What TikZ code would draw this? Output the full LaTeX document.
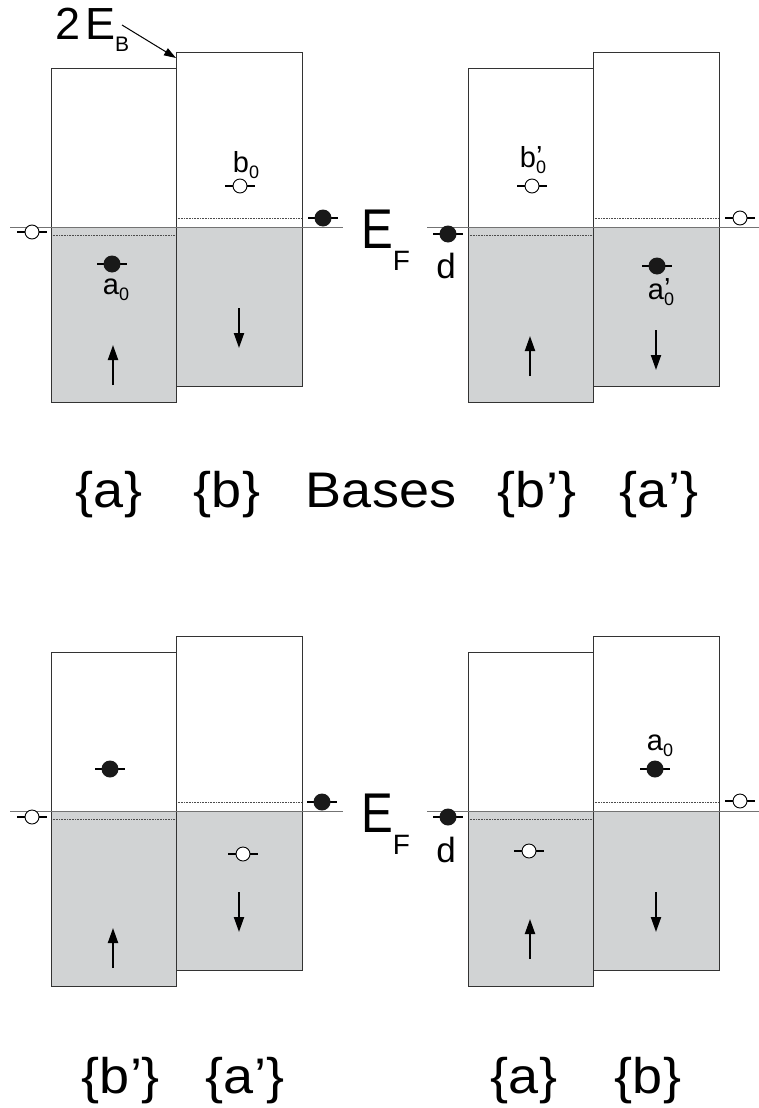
\documentclass[tikz,border=0pt]{standalone}
\usepackage{fontspec}
\setmainfont{Liberation Sans}
\usetikzlibrary{arrows.meta}
\definecolor{bandgray}{RGB}{209,211,212}
\newcommand{\lsub}[1]{\raisebox{-0.4ex}{\fontsize{18}{18}\selectfont #1}}
\newcommand{\lpsub}[1]{\rlap{\raisebox{1pt}{’}}\lsub{#1}}
\newcommand{\wide}[1]{\scalebox{1.08}[1]{#1}}

\begin{document}
\begin{tikzpicture}[x=1pt,y=-1pt]
  \tikzstyle{band}=[draw=black!80,line width=0.8pt]
  \tikzstyle{filled}=[fill=bandgray]
  \tikzstyle{level}=[draw=black!70,densely dotted,line width=0.6pt]
  \tikzstyle{fermi}=[draw=black!55,line width=0.9pt]
  \tikzstyle{bar}=[draw,line width=2pt]
  \tikzstyle{hole}=[circle,draw,line width=0.9pt,fill=white,minimum size=14pt,inner sep=0pt]
  \tikzstyle{elec}=[circle,fill=black!90,minimum size=17pt,inner sep=0pt]
  \tikzstyle{spin}=[-{Triangle[length=15pt,width=10pt]},line width=2pt]
  \tikzstyle{pointer}=[-{Triangle[length=12pt,width=8pt]},line width=1pt]
  \tikzstyle{lbl}=[font=\fontsize{29}{29}\selectfont,inner sep=0pt]
  \tikzstyle{dlbl}=[font=\fontsize{35}{35}\selectfont,inner sep=0pt]
  \tikzstyle{basis}=[font=\fontsize{50}{50}\selectfont,inner sep=0pt,anchor=base]
  \tikzstyle{ef}=[font=\fontsize{56}{56}\selectfont,inner sep=0pt,anchor=base west]

  \useasboundingbox (0,0) rectangle (759,1108);

  % bands, Fermi level and spin arrows of the four pictures
  \foreach \dx/\dy/\up/\dn in {0/0/385/308,417/0/376/330,0/584/384/308,417/584/375/308} {
    \begin{scope}[shift={(\dx,\dy)}]
      \fill[filled] (51,227) rectangle (176,402);
      \fill[filled] (176,227) rectangle (302,386);
      \draw[level] (51,235) -- (176,235);
      \draw[level] (176,218) -- (302,218);
      \draw[band] (51,68) rectangle (176,402);
      \draw[band] (176,52) rectangle (302,386);
      \draw[fermi] (10,227) -- (343,227);
      \draw[spin] (113,\up) -- (113,\up-40);
      \draw[spin] (239,\dn) -- (239,\dn+40);
    \end{scope}
  }

  % empty and occupied levels
  \foreach \x/\y/\n in {32/232/h1,240/186/hb,532/186/hbp,740/218/h2,
                        32/817/h3,243/854/h4,529/851/h5,740/801/h6} {
    \draw[bar] (\x-15,\y) -- (\x+15,\y);
    \node[hole] (\n) at (\x,\y) {};
  }
  \foreach \x/\y/\n in {323/218/e1,112/264/ea,448/234/d1,657/266/eap,
                        110/769/e2,322/802/e3,448/817/d2,655/769/eab} {
    \draw[bar] (\x-15,\y) -- (\x+15,\y);
    \node[elec] (\n) at (\x,\y) {};
  }

  \node[lbl] (la) at (116,290) {a\lsub{0}};
  \node[lbl] (lb) at (246,165) {b\lsub{0}};
  \node[lbl] (lbp) at (533,160) {b\lpsub{0}};
  \node[lbl] (lap) at (661,292) {a\lpsub{0}};
  \node[lbl] (lab) at (660,746) {a\lsub{0}};
  \node[dlbl] (ld1) at (446,266) {d};
  \node[dlbl] (ld2) at (446,850) {d};

  % Fermi energy
  \node[ef] (ef1) at (361,248) {\scalebox{0.85}[1]{E}\raisebox{-22pt}{\fontsize{28}{28}\selectfont F}};
  \node[ef] (ef2) at (361,832) {\scalebox{0.85}[1]{E}\raisebox{-22pt}{\fontsize{28}{28}\selectfont F}};

  % band shift
  \node[font=\fontsize{45}{45}\selectfont,inner sep=0pt,anchor=base west] (eb) at (55,40)
       {2\hspace{5pt}E\raisebox{-12pt}{\fontsize{21}{21}\selectfont B}};
  \coordinate (ebtail) at (122,25);
  \coordinate (ebtip) at (176,58);
  \draw[pointer] (ebtail) -- (ebtip);

  % bases
  \node[basis] (ta) at (109,507) {\wide{\{a\}}};
  \node[basis] (tb) at (227,507) {\wide{\{b\}}};
  \node[basis] (tbases) at (381,507) {\wide{Bases}};
  \node[basis] (tbp) at (537,507) {\wide{\{b’\}}};
  \node[basis] (tap) at (659,507) {\wide{\{a’\}}};
  \node[basis] (bbp) at (121,1093) {\wide{\{b’\}}};
  \node[basis] (bap) at (245,1093) {\wide{\{a’\}}};
  \node[basis] (ba) at (524,1093) {\wide{\{a\}}};
  \node[basis] (bb) at (648,1093) {\wide{\{b\}}};
\end{tikzpicture}
\end{document}
